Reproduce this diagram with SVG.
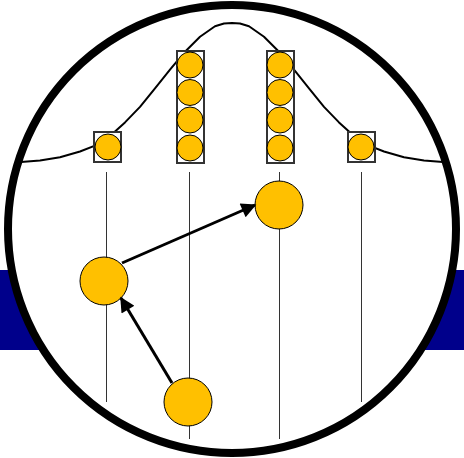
<svg xmlns="http://www.w3.org/2000/svg" width="464" height="458" viewBox="0 0 464 458">
<style>
.dot{fill:#FFC000;stroke:#000;stroke-width:1}
.box{fill:#fff;stroke:#333;stroke-width:2}
.vl{stroke:#333;stroke-width:1;fill:none}
.arr{stroke:#000;stroke-width:3;fill:none;marker-end:url(#ah)}
</style>
<defs>
<marker id="ah" viewBox="0 0 10 10" refX="9" refY="5" markerWidth="5.5" markerHeight="5" orient="auto" markerUnits="strokeWidth">
<path d="M0,0 L10,5 L0,10 z" fill="#000"/>
</marker>
</defs>
<rect x="0" y="270" width="464" height="80" fill="#00008B"/>
<circle cx="232" cy="229" r="224" fill="#fff" stroke="#000" stroke-width="8"/>
<polyline fill="none" stroke="#000" stroke-width="2" stroke-linejoin="round" points="21,161.9 40,160.4 60,157.3 80,151.5 95,145.6 110,136 125,122.4 140,106.9 155,88.3 170,69.6 185,51.7 200,36.7 215,26.3 224,23.5 232,23 240,23.5 249,26.3 264,36.7 279,51.7 294,69.6 309,88.3 324,106.9 339,122.4 354,136 369,145.6 384,151.5 404,157.3 424,160.4 443,161.9"/>
<g id="lines">
<line class="vl" x1="106.5" y1="172" x2="106.5" y2="402"/>
<line class="vl" x1="189.5" y1="172" x2="189.5" y2="439"/>
<line class="vl" x1="279.5" y1="172" x2="279.5" y2="439"/>
<line class="vl" x1="361.5" y1="172" x2="361.5" y2="402"/>
</g>
<g id="box1"><rect class="box" x="94" y="132" width="27" height="30"/><circle class="dot" cx="108" cy="147" r="13"/></g>
<g id="box2"><rect class="box" x="177" y="51" width="27" height="112"/>
<circle class="dot" cx="190" cy="65" r="13"/><circle class="dot" cx="190" cy="92.5" r="13"/><circle class="dot" cx="190" cy="120" r="13"/><circle class="dot" cx="190" cy="148" r="13"/></g>
<g id="box3"><rect class="box" x="267" y="51" width="27" height="112"/>
<circle class="dot" cx="280" cy="65" r="13"/><circle class="dot" cx="280" cy="92.5" r="13"/><circle class="dot" cx="280" cy="120" r="13"/><circle class="dot" cx="280" cy="148" r="13"/></g>
<g id="box4"><rect class="box" x="348" y="132" width="27" height="30"/><circle class="dot" cx="361" cy="147" r="13"/></g>
<g id="nodeA"><circle class="dot" cx="104" cy="281" r="24"/></g>
<g id="nodeB"><circle class="dot" cx="279" cy="205" r="24"/></g>
<g id="nodeC"><circle class="dot" cx="188" cy="402" r="24"/></g>
<g id="connectors">
<line class="arr" x1="122" y1="263" x2="255" y2="205"/>
<line class="arr" x1="172" y1="383" x2="121" y2="298"/>
</g>
</svg>
